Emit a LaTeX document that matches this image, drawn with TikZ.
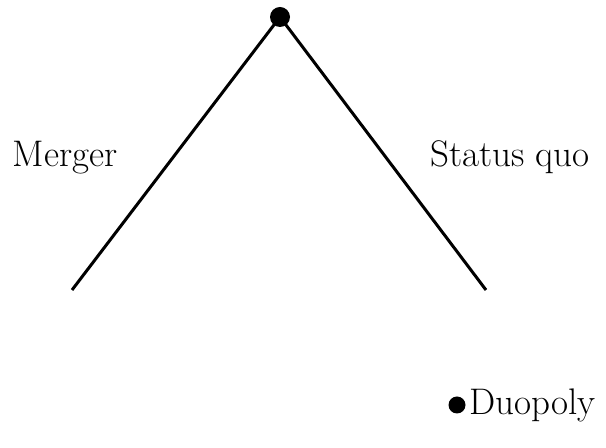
\documentclass[tikz,border=0pt]{standalone}
\usepackage{tikz}
\usetikzlibrary{positioning}

\begin{document}
\begin{tikzpicture}[
  x=0.5pt, y=-0.5pt,
  font=\fontsize{18.5}{22}\selectfont,
  dot/.style={circle, fill=black, inner sep=0pt, minimum size=#1},
  branch/.style={line width=1.5pt},
  lbl/.style={inner sep=0pt}
]
\useasboundingbox (0,0) rectangle (606,448);

% Nodes
\node[dot=10pt] (root) at (280,17) {};
\coordinate (mleaf) at (72,290);
\coordinate (sleaf) at (486,290);
\node[dot=8.5pt] (duo) at (457,405) {};

% Branches
\draw[branch] (root.center) -- (mleaf);
\draw[branch] (root.center) -- (sleaf);

% Labels
\node[lbl] (merger) at (65,158) {Merger};
\node[lbl] (status) at (510,157) {Status quo};
\node[lbl, right=1.5pt of duo] (duolbl) {Duopoly};

\end{tikzpicture}
\end{document}
